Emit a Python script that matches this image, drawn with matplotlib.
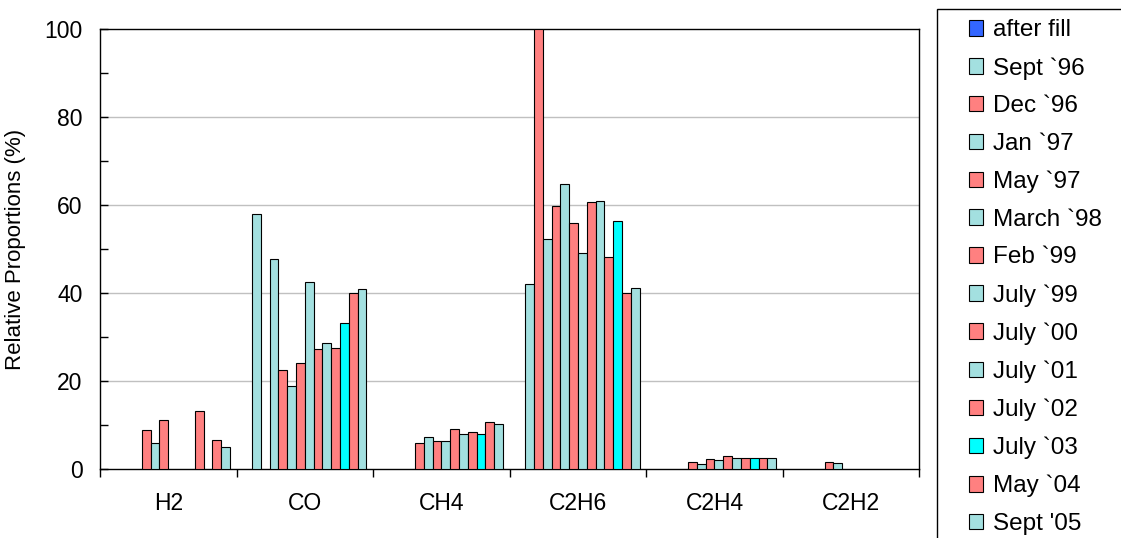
"""Relative proportions of dissolved gases per sampling date (grouped bars)."""
import numpy as np
import matplotlib
matplotlib.use("Agg")
import matplotlib.pyplot as plt
from matplotlib.patches import Rectangle
from matplotlib.ticker import MultipleLocator

plt.rcParams["font.family"] = ["Liberation Sans", "DejaVu Sans"]

RED = "#FF8080"; TEAL = "#A3E0E0"; CYAN = "#00FFFF"; BLUE = "#3366FF"

gases = ["H2", "CO", "CH4", "C2H6", "C2H4", "C2H2"]
nan = np.nan

# one list per sampling date, values in gas order above
after_fill = [nan, nan, nan, nan, nan, nan]
sept_96 = [nan, 58.0, nan, 42.2, nan, nan]
dec_96 = [nan, nan, nan, 100.0, nan, nan]
jan_97 = [nan, 47.8, nan, 52.4, nan, nan]
may_97 = [8.8, 22.5, 5.9, 59.8, 1.6, 1.6]
march_98 = [5.9, 18.9, 7.2, 64.8, 1.2, 1.3]
feb_99 = [11.2, 24.1, 6.3, 55.9, 2.3, nan]
july_99 = [nan, 42.6, 6.3, 49.1, 2.1, nan]
july_00 = [nan, 27.3, 9.1, 60.7, 2.9, nan]
july_01 = [nan, 28.6, 8.0, 61.0, 2.4, nan]
july_02 = [13.1, 27.5, 8.3, 48.3, 2.4, nan]
july_03 = [nan, 33.2, 8.0, 56.4, 2.4, nan]
may_04 = [6.6, 40.0, 10.7, 40.0, 2.6, nan]
sept_05 = [5.0, 41.0, 10.2, 41.1, 2.6, nan]

labels = ["after fill", "Sept `96", "Dec `96", "Jan `97", "May `97", "March `98",
          "Feb `99", "July `99", "July `00", "July `01", "July `02", "July `03",
          "May `04", "Sept '05"]
series = [after_fill, sept_96, dec_96, jan_97, may_97, march_98, feb_99,
          july_99, july_00, july_01, july_02, july_03, may_04, sept_05]
colors = [BLUE, TEAL, RED, TEAL, RED, TEAL, RED, TEAL, RED, TEAL, RED, CYAN, RED, TEAL]

fig = plt.figure(figsize=(11.21, 5.38), dpi=100)
ax = fig.add_axes([0.0892, 0.1283, 0.7309, 0.8169])

n = len(series)
w = 1 / 15.5
x = np.arange(len(gases))
for i, (vals, lab, col) in enumerate(zip(series, labels, colors)):
    ax.bar(x + (i - (n - 1) / 2) * w, vals, width=w, color=col,
           edgecolor="black", linewidth=0.8, label=lab, zorder=3)

ax.set_xlim(-0.5, len(gases) - 0.5)
ax.set_ylim(0, 100)
ax.yaxis.set_major_locator(MultipleLocator(20))
ax.yaxis.set_minor_locator(MultipleLocator(10))
ax.tick_params(axis="y", which="both", direction="in", length=6, width=1,
               labelsize=16.5, pad=12.5)
for g in [20, 40, 60, 80]:
    ax.axhline(g, color="#C0C0C0", linewidth=1, zorder=1)

# category ticks on the boundaries, labels centred
ax.set_xticks(np.arange(len(gases) + 1) - 0.5)
ax.set_xticklabels([])
ax.tick_params(axis="x", which="major", direction="out", length=6, width=1)
ax.set_xticks(x, minor=True)
ax.set_xticklabels(gases, minor=True)
ax.tick_params(axis="x", which="minor", length=0, labelsize=16.5, pad=16.5)

for s in ax.spines.values():
    s.set_color("black"); s.set_linewidth(1)

ax.set_ylabel("Relative Proportions (%)", fontsize=16)
ax.yaxis.set_label_coords(-0.09, 0.5)

# legend box runs off the right and bottom of the canvas
fig.patches.append(Rectangle((0.8361, -0.05), 0.3, 0.9838 + 0.05,
                             transform=fig.transFigure, fill=False,
                             edgecolor="black", linewidth=1))
fig.legend(loc="upper left", bbox_to_anchor=(0.864, 0.964), frameon=False,
           fontsize=17.5, handlelength=0.6, handleheight=0.6,
           handletextpad=0.42, labelspacing=0.645, borderpad=0, borderaxespad=0)

fig.savefig("out.png", dpi=100)
